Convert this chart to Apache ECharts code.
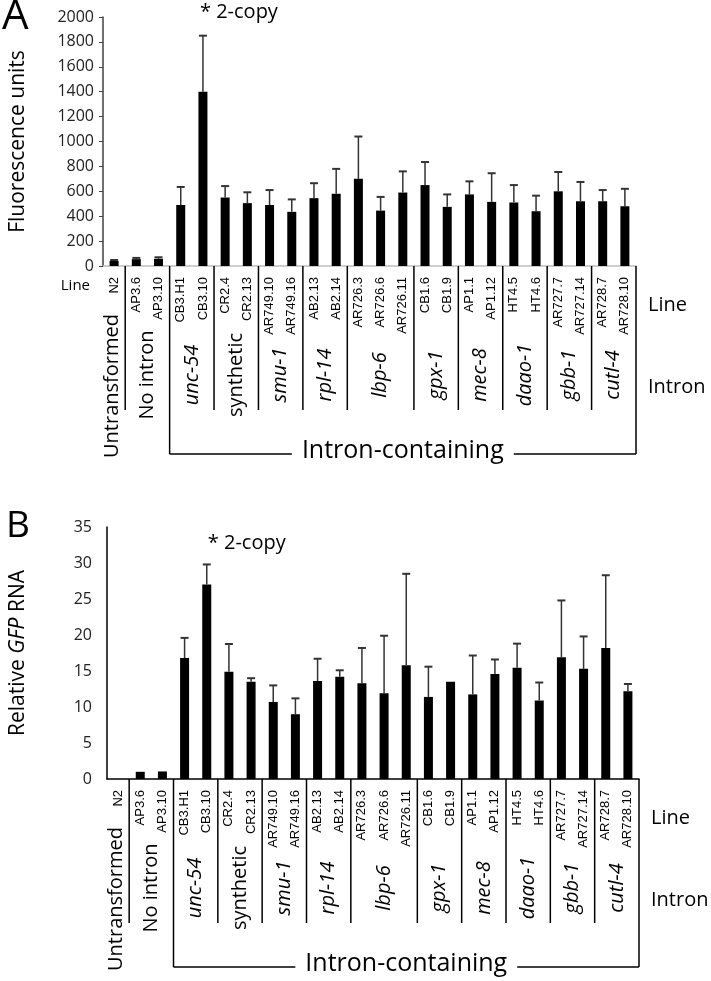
<!DOCTYPE html>
<html>
<head>
<meta charset="utf-8">
<script src="https://cdn.jsdelivr.net/npm/echarts@6/dist/echarts.min.js"></script>
<style>
  html, body { margin: 0; padding: 0; background: #fff; }
  #main { width: 711px; height: 981px; }
</style>
</head>
<body>
<div id="main"></div>
<script>
// strain lines (x categories), shared by both panels
const lines = ['N2', 'AP3.6', 'AP3.10', 'CB3.H1', 'CB3.10', 'CR2.4', 'CR2.13', 'AR749.10', 'AR749.16',
  'AB2.13', 'AB2.14', 'AR726.3', 'AR726.6', 'AR726.11', 'CB1.6', 'CB1.9', 'AP1.1', 'AP1.12',
  'HT4.5', 'HT4.6', 'AR727.7', 'AR727.14', 'AR728.7', 'AR728.10'];
// intron groups under the lines
const groupNames = ['Untransformed', 'No intron', 'unc-54', 'synthetic', 'smu-1', 'rpl-14',
  'lbp-6', 'gpx-1', 'mec-8', 'daao-1', 'gbb-1', 'cutl-4'];
const groupSizes = [1, 2, 2, 2, 2, 2, 3, 2, 2, 2, 2, 2];
const groupItalic = [false, false, true, false, true, true, true, true, true, true, true, true];

// panel A: fluorescence
const fluorMean = [40, 55, 58, 490, 1400, 550, 505, 490, 435, 545, 580, 700,
  445, 590, 650, 475, 575, 515, 510, 440, 600, 520, 520, 480];
const fluorErr = [8, 10, 12, 145, 450, 92, 87, 120, 100, 120, 200, 340,
  110, 170, 185, 100, 105, 230, 140, 125, 155, 155, 90, 140];

// panel B: relative GFP RNA
const rnaMean = [0, 1.0, 1.05, 16.8, 27.0, 14.9, 13.5, 10.7, 9.0, 13.6, 14.2, 13.3,
  11.9, 15.8, 11.4, 13.5, 11.75, 14.6, 15.45, 10.9, 16.9, 15.3, 18.2, 12.2];
const rnaErr = [0, 0, 0, 2.8, 2.8, 3.85, 0.5, 2.3, 2.2, 3.1, 0.9, 4.9,
  8.0, 12.7, 4.2, 0, 5.4, 2.0, 3.35, 2.5, 7.9, 4.5, 10.1, 1.0];

const noteIndex = 4; // CB3.10
const noteText = '* 2-copy';

const groupStarts = [];
let acc = 0;
groupSizes.forEach(n => { groupStarts.push(acc); acc += n; });

const FONT = 'Open Sans';

// group labels, separators and the "Intron-containing" bracket
function groupRender(params, api) {
  const g = params.dataIndex;
  const last = groupNames.length - 1;
  const bw = api.size([1, 0])[0];
  const p = api.coord([groupStarts[g], 0]);
  const left = p[0] - bw / 2;
  const right = left + groupSizes[g] * bw;
  const y0 = p[1];
  const ls = { stroke: '#000', lineWidth: 1.5 };
  const children = [{
    type: 'text',
    x: (left + right) / 2 + (g === 0 ? -2 : 0),
    y: y0 + (g === 0 ? 120 : 109),
    rotation: Math.PI / 2,
    style: {
      text: groupNames[g], align: 'center', verticalAlign: 'middle',
      fontFamily: FONT, fontSize: 20, fontStyle: groupItalic[g] ? 'italic' : 'normal', fill: '#000'
    }
  }];
  const len = (g === 1 || g === last) ? 188 : 144;
  children.push({ type: 'line', shape: { x1: right, y1: y0, x2: right, y2: y0 + len }, style: ls });
  if (g === last) {
    const bl = api.coord([groupStarts[2], 0])[0] - bw / 2;
    children.push({ type: 'line', shape: { x1: bl, y1: y0 + 188, x2: right, y2: y0 + 188 }, style: ls });
    children.push({
      type: 'text', x: (bl + right) / 2, y: y0 + 185,
      style: {
        text: 'Intron-containing', align: 'center', verticalAlign: 'middle',
        fontFamily: FONT, fontSize: 25, fill: '#000', backgroundColor: '#fff', padding: [0, 10]
      }
    });
    children.push({
      type: 'text', x: right + 12, y: y0 + 39,
      style: { text: 'Line', align: 'left', verticalAlign: 'middle', fontFamily: FONT, fontSize: 20, fill: '#000' }
    });
    children.push({
      type: 'text', x: right + 12, y: y0 + 121,
      style: { text: 'Intron', align: 'left', verticalAlign: 'middle', fontFamily: FONT, fontSize: 20, fill: '#000' }
    });
  }
  return { type: 'group', children };
}

function errRender(params, api) {
  const lo = api.value(1), hi = api.value(2);
  if (hi <= lo) return;
  const p1 = api.coord([api.value(0), lo]);
  const p2 = api.coord([api.value(0), hi]);
  return {
    type: 'group',
    children: [
      { type: 'line', shape: { x1: p1[0], y1: p1[1], x2: p2[0], y2: p2[1] }, style: { stroke: '#333', lineWidth: 1.5 } },
      { type: 'line', shape: { x1: p2[0] - 4, y1: p2[1], x2: p2[0] + 4, y2: p2[1] }, style: { stroke: '#333', lineWidth: 2 } }
    ]
  };
}

function errData(mean, err) {
  return lines.map((c, i) => [i, mean[i], mean[i] + err[i]]);
}

const lineLabel = { interval: 0, rotate: 90, margin: 11, fontFamily: 'Liberation Sans', fontSize: 13, color: '#000' };
const tickLabel = { fontFamily: FONT, fontSize: 16, color: '#222', formatter: v => String(v) };

const chart = echarts.init(document.getElementById('main'));

const option = {
  backgroundColor: '#fff',
  animation: false,
  grid: [
    { left: 100, right: 75, top: 17, bottom: 715 },
    { left: 103, right: 72, top: 527, bottom: 202 }
  ],
  xAxis: [
    {
      type: 'category', gridIndex: 0, data: lines,
      axisLine: { lineStyle: { color: '#bfbfbf', width: 1.5 } },
      axisTick: { show: false },
      axisLabel: lineLabel
    },
    {
      type: 'category', gridIndex: 1, data: lines,
      axisLine: { lineStyle: { color: '#000', width: 1.5 } },
      axisTick: { show: false },
      axisLabel: lineLabel
    }
  ],
  yAxis: [
    {
      type: 'value', gridIndex: 0, min: 0, max: 2000, interval: 200,
      name: 'Fluorescence units', nameLocation: 'middle', nameGap: 74,
      nameTextStyle: { fontFamily: FONT, fontSize: 21, color: '#000' },
      axisLine: { show: true, lineStyle: { color: '#404040', width: 1.5 } },
      axisTick: { show: true, length: 4, lineStyle: { color: '#404040' } },
      splitLine: { show: false },
      axisLabel: Object.assign({ margin: 9 }, tickLabel)
    },
    {
      type: 'value', gridIndex: 1, min: 0, max: 35, interval: 5,
      name: '{a|Relative }{b|GFP}{a| RNA}', nameLocation: 'middle', nameGap: 78,
      nameTextStyle: {
        rich: {
          a: { fontFamily: FONT, fontSize: 21, color: '#000' },
          b: { fontFamily: FONT, fontSize: 21, fontStyle: 'italic', color: '#000' }
        }
      },
      axisLine: { show: true, lineStyle: { color: '#000', width: 1.5 } },
      axisTick: { show: false },
      splitLine: { show: false },
      axisLabel: Object.assign({ margin: 15 }, tickLabel)
    }
  ],
  series: [
    {
      type: 'bar', xAxisIndex: 0, yAxisIndex: 0, data: fluorMean, barWidth: 9,
      itemStyle: { color: '#000' }
    },
    {
      type: 'custom', xAxisIndex: 0, yAxisIndex: 0, renderItem: errRender,
      data: errData(fluorMean, fluorErr), encode: { x: 0, y: [1, 2] }, z: 3
    },
    {
      type: 'custom', xAxisIndex: 0, yAxisIndex: 0, renderItem: groupRender, clip: false,
      data: groupStarts.map(s => [s, 0]), encode: { x: 0, y: 1 }, silent: true
    },
    {
      type: 'bar', xAxisIndex: 1, yAxisIndex: 1, data: rnaMean, barWidth: 9,
      itemStyle: { color: '#000' }
    },
    {
      type: 'custom', xAxisIndex: 1, yAxisIndex: 1, renderItem: errRender,
      data: errData(rnaMean, rnaErr), encode: { x: 0, y: [1, 2] }, z: 3
    },
    {
      type: 'custom', xAxisIndex: 1, yAxisIndex: 1, renderItem: groupRender, clip: false,
      data: groupStarts.map(s => [s, 0]), encode: { x: 0, y: 1 }, silent: true
    }
  ]
};

chart.setOption(option);

// panel letters, "Line" caption and the 2-copy note
const noteA = chart.convertToPixel({ xAxisIndex: 0, yAxisIndex: 0 }, [noteIndex, 2040]);
const noteB = chart.convertToPixel({ xAxisIndex: 1, yAxisIndex: 1 }, [noteIndex, 32.8]);
const zeroA = chart.convertToPixel({ xAxisIndex: 0, yAxisIndex: 0 }, [0, 0]);

chart.setOption({
  graphic: [
    { type: 'text', left: 2, top: -4, style: { text: 'A', fontFamily: FONT, fontSize: 42, fill: '#000' } },
    { type: 'text', left: 6, top: 508, style: { text: 'B', fontFamily: FONT, fontSize: 37, fill: '#000' } },
    {
      type: 'text', x: 90, y: zeroA[1] + 20,
      style: { text: 'Line', align: 'right', verticalAlign: 'middle', fontFamily: FONT, fontSize: 15, fill: '#000' }
    },
    {
      type: 'text', x: noteA[0] - 3, y: noteA[1],
      style: { text: noteText, align: 'left', verticalAlign: 'middle', fontFamily: FONT, fontSize: 20, fill: '#000' }
    },
    {
      type: 'text', x: noteB[0] + 1, y: noteB[1],
      style: { text: noteText, align: 'left', verticalAlign: 'middle', fontFamily: FONT, fontSize: 20, fill: '#000' }
    }
  ]
});
</script>
</body>
</html>
